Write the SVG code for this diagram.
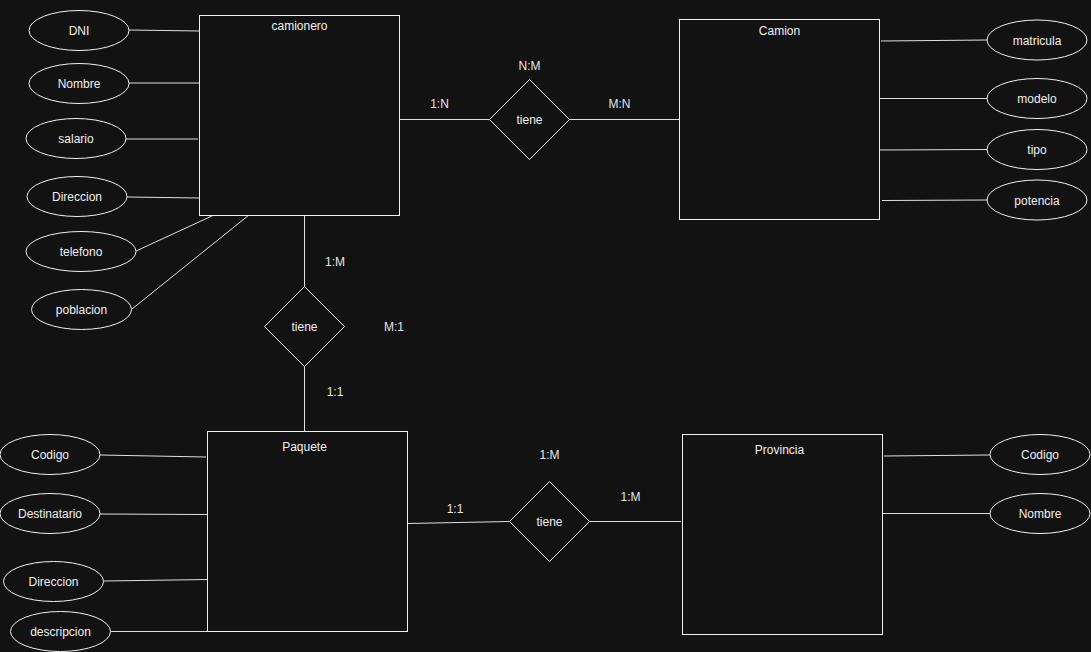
<svg xmlns="http://www.w3.org/2000/svg" width="1091" height="652" viewBox="0 0 1091 652">
<style>
.bg{fill:#121212}
.ent,.rel,.att{fill:#121212;stroke:#f0f0f0;stroke-width:1}
.ln{stroke:#e0e0e0;stroke-width:1;fill:none}
text{font-family:"Liberation Sans",Arial,Helvetica,sans-serif;font-size:12px;fill:#f0f0f0;text-anchor:middle}
.card{fill:#e6e6e6}
</style>
<rect class="bg" x="0" y="0" width="1091" height="652"/>
<g id="connectors">
<line class="ln" x1="129" y1="30" x2="200" y2="31"/>
<line class="ln" x1="129" y1="83" x2="200" y2="83"/>
<line class="ln" x1="126" y1="139" x2="198" y2="139"/>
<line class="ln" x1="127" y1="197" x2="199" y2="198"/>
<line class="ln" x1="136" y1="251" x2="214" y2="215"/>
<line class="ln" x1="132" y1="309" x2="249" y2="215"/>
<line class="ln" x1="399.5" y1="119.5" x2="489" y2="119.5"/>
<line class="ln" x1="569" y1="119.5" x2="679.5" y2="119.5"/>
<line class="ln" x1="881" y1="41" x2="987" y2="40"/>
<line class="ln" x1="879.5" y1="98.5" x2="987" y2="98.5"/>
<line class="ln" x1="879.5" y1="150" x2="987" y2="149.5"/>
<line class="ln" x1="882" y1="200.5" x2="987" y2="200"/>
<line class="ln" x1="304.5" y1="215.5" x2="304.5" y2="286.5"/>
<line class="ln" x1="304.5" y1="366.5" x2="304.5" y2="436"/>
<line class="ln" x1="100" y1="455" x2="206" y2="457"/>
<line class="ln" x1="100" y1="514" x2="207" y2="514.5"/>
<line class="ln" x1="104" y1="581" x2="207" y2="579.5"/>
<line class="ln" x1="111" y1="631.5" x2="207" y2="631.5"/>
<line class="ln" x1="407.5" y1="523.5" x2="509.5" y2="521.5"/>
<line class="ln" x1="589.5" y1="521.5" x2="681" y2="521.5"/>
<line class="ln" x1="884" y1="456" x2="990" y2="455"/>
<line class="ln" x1="883" y1="513.5" x2="990" y2="513.5"/>
</g>
<g id="camionero"><rect class="ent" x="199.5" y="15.5" width="200" height="200"/><text x="299.5" y="30">camionero</text></g>
<g id="camion"><rect class="ent" x="679.5" y="19.5" width="200" height="200"/><text x="779.5" y="35">Camion</text></g>
<g id="paquete"><rect class="ent" x="207.5" y="431.5" width="200" height="200"/><text x="304.5" y="451">Paquete</text></g>
<g id="provincia"><rect class="ent" x="682.5" y="434.5" width="200" height="200"/><text x="779.5" y="454">Provincia</text></g>
<g id="tiene1"><polygon class="rel" points="529.5,79.5 569.5,119.5 529.5,159.5 489.5,119.5"/><text x="529.5" y="124">tiene</text></g>
<g id="tiene2"><polygon class="rel" points="304.5,286.5 344.5,326.5 304.5,366.5 264.5,326.5"/><text x="304.5" y="331">tiene</text></g>
<g id="tiene3"><polygon class="rel" points="549.5,481.5 589.5,521.5 549.5,561.5 509.5,521.5"/><text x="549.5" y="526">tiene</text></g>
<g id="att-dni"><ellipse class="att" cx="79" cy="30.5" rx="50" ry="20"/><text x="79" y="35">DNI</text></g>
<g id="att-nombre"><ellipse class="att" cx="79" cy="83.5" rx="50" ry="20"/><text x="79" y="88">Nombre</text></g>
<g id="att-salario"><ellipse class="att" cx="76" cy="138.5" rx="50" ry="20"/><text x="76" y="143">salario</text></g>
<g id="att-direccion1"><ellipse class="att" cx="77" cy="196.5" rx="50" ry="20"/><text x="77" y="201">Direccion</text></g>
<g id="att-telefono"><ellipse class="att" cx="81" cy="251.5" rx="55" ry="20"/><text x="81" y="256">telefono</text></g>
<g id="att-poblacion"><ellipse class="att" cx="81.5" cy="309.5" rx="50" ry="20"/><text x="81.5" y="314">poblacion</text></g>
<g id="att-matricula"><ellipse class="att" cx="1037" cy="40" rx="50" ry="20"/><text x="1037" y="44.5">matricula</text></g>
<g id="att-modelo"><ellipse class="att" cx="1037" cy="98.5" rx="50" ry="20"/><text x="1037" y="103">modelo</text></g>
<g id="att-tipo"><ellipse class="att" cx="1037" cy="149.5" rx="50" ry="20"/><text x="1037" y="154">tipo</text></g>
<g id="att-potencia"><ellipse class="att" cx="1037" cy="200" rx="50" ry="20"/><text x="1037" y="204.5">potencia</text></g>
<g id="att-codigo1"><ellipse class="att" cx="50" cy="454.5" rx="50" ry="20"/><text x="50" y="459">Codigo</text></g>
<g id="att-destinatario"><ellipse class="att" cx="50" cy="513.5" rx="50" ry="20"/><text x="50" y="518">Destinatario</text></g>
<g id="att-direccion2"><ellipse class="att" cx="53.5" cy="581.5" rx="50" ry="20"/><text x="53.5" y="586">Direccion</text></g>
<g id="att-descripcion"><ellipse class="att" cx="60.5" cy="631.5" rx="50" ry="20"/><text x="60.5" y="636">descripcion</text></g>
<g id="att-codigo2"><ellipse class="att" cx="1040" cy="454.5" rx="50" ry="20"/><text x="1040" y="459">Codigo</text></g>
<g id="att-nombre2"><ellipse class="att" cx="1040" cy="513.5" rx="50" ry="20"/><text x="1040" y="518">Nombre</text></g>
<g id="labels">
<text class="card" x="439.5" y="108">1:N</text>
<text class="card" x="529.5" y="70">N:M</text>
<text class="card" x="619.5" y="108">M:N</text>
<text class="card" x="335" y="266">1:M</text>
<text class="card" x="394" y="331">M:1</text>
<text class="card" x="335" y="396">1:1</text>
<text class="card" x="455" y="513">1:1</text>
<text class="card" x="549.5" y="459">1:M</text>
<text class="card" x="630.5" y="501">1:M</text>
</g>
</svg>
